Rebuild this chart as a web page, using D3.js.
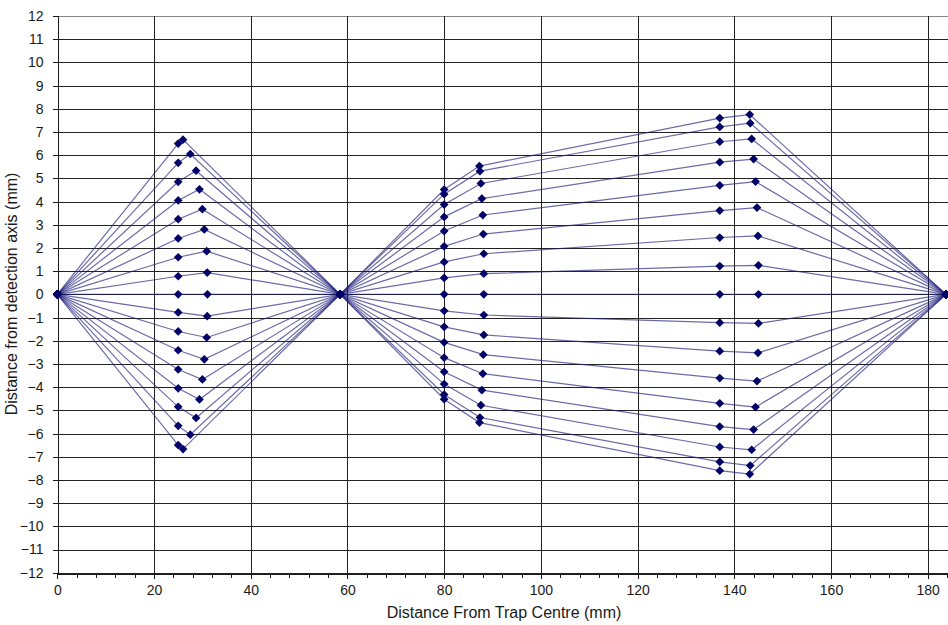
<!DOCTYPE html>
<html>
<head>
<meta charset="utf-8">
<script src="https://cdn.jsdelivr.net/npm/d3@7"></script>
<style>
  html, body { margin: 0; padding: 0; background: #fff; }
  svg { display: block; font-family: "Liberation Sans", Arial, sans-serif; }
</style>
</head>
<body>
<svg id="chart" width="948" height="625"></svg>
<script>
// Ray trace through a two-stage lens system: 17 rays from the trap centre,
// each listed top to bottom. Every ray passes the source, the entry and exit
// faces of three lens elements, and two focal points on the axis.

const xSource = 0;
const xFocus1 = 58.5;
const xFocus2 = 183.8;

// First element (entry face at a fixed plane, exit face curved)
const xLens1Entry = 25;
const yLens1Entry = [6.5, 5.67, 4.85, 4.05, 3.24, 2.41, 1.6, 0.78, 0, -0.78, -1.6, -2.41, -3.24, -4.05, -4.85, -5.67, -6.5];
const xLens1Exit  = [26.0, 27.5, 28.7, 29.4, 30.0, 30.4, 30.9, 31.0, 31.05, 31.0, 30.9, 30.4, 30.0, 29.4, 28.7, 27.5, 26.0];
const yLens1Exit  = [6.67, 6.05, 5.33, 4.53, 3.67, 2.8, 1.86, 0.94, 0, -0.94, -1.86, -2.8, -3.67, -4.53, -5.33, -6.05, -6.67];

// Second element
const xLens2Entry = 80;
const yLens2Entry = [4.52, 4.32, 3.87, 3.34, 2.73, 2.07, 1.4, 0.71, 0, -0.71, -1.4, -2.07, -2.73, -3.34, -3.87, -4.32, -4.52];
const xLens2Exit  = [87.3, 87.4, 87.6, 87.8, 88.0, 88.1, 88.2, 88.2, 88.2, 88.2, 88.2, 88.1, 88.0, 87.8, 87.6, 87.4, 87.3];
const yLens2Exit  = [5.53, 5.31, 4.78, 4.13, 3.42, 2.6, 1.75, 0.89, 0, -0.89, -1.75, -2.6, -3.42, -4.13, -4.78, -5.31, -5.53];

// Third element
const xLens3Entry = 137;
const yLens3Entry = [7.6, 7.22, 6.58, 5.7, 4.7, 3.61, 2.45, 1.22, 0, -1.22, -2.45, -3.61, -4.7, -5.7, -6.58, -7.22, -7.6];
const xLens3Exit  = [143.2, 143.3, 143.6, 144.0, 144.4, 144.7, 144.9, 145.0, 145.0, 145.0, 144.9, 144.7, 144.4, 144.0, 143.6, 143.3, 143.2];
const yLens3Exit  = [7.75, 7.38, 6.7, 5.83, 4.86, 3.74, 2.52, 1.25, 0, -1.25, -2.52, -3.74, -4.86, -5.83, -6.7, -7.38, -7.75];

// Axis ticks
const xTicks = [0, 20, 40, 60, 80, 100, 120, 140, 160, 180];
const xMinorTicks = d3.range(0, 185, 4);
const yTicks = d3.range(-12, 13, 1);

const xDomain = [0, 184.2];
const yDomain = [-12, 12];

const rays = yLens1Entry.map((_, i) => [
  [xSource, 0],
  [xLens1Entry, yLens1Entry[i]],
  [xLens1Exit[i], yLens1Exit[i]],
  [xFocus1, 0],
  [xLens2Entry, yLens2Entry[i]],
  [xLens2Exit[i], yLens2Exit[i]],
  [xLens3Entry, yLens3Entry[i]],
  [xLens3Exit[i], yLens3Exit[i]],
  [xFocus2, 0]
]);

const svg = d3.select("#chart");
const plotLeft = 57.3, plotRight = 948, plotTop = 16, plotBottom = 572.7;

const x = d3.scaleLinear().domain(xDomain).range([plotLeft, plotRight]);
const y = d3.scaleLinear().domain(yDomain).range([plotBottom, plotTop]);

const ink = "#1a1a1a";

// Grid
const grid = svg.append("g").attr("shape-rendering", "crispEdges");
grid.selectAll("line.h").data(yTicks).join("line")
  .attr("class", "h")
  .attr("x1", plotLeft).attr("x2", plotRight)
  .attr("y1", d => Math.round(y(d)) + 0.5).attr("y2", d => Math.round(y(d)) + 0.5)
  .attr("stroke", d => d === 12 ? "#888" : "#222")
  .attr("stroke-width", 1);
grid.selectAll("line.v").data(xTicks.filter(d => d > 0)).join("line")
  .attr("class", "v")
  .attr("x1", d => Math.round(x(d)) + 0.5).attr("x2", d => Math.round(x(d)) + 0.5)
  .attr("y1", plotTop).attr("y2", plotBottom)
  .attr("stroke", "#222")
  .attr("stroke-width", 1);

// Axes
svg.append("g")
  .attr("transform", `translate(0,${Math.round(plotBottom) + 0.5})`)
  .call(d3.axisBottom(x).tickValues(xTicks).tickSize(5).tickPadding(7).tickFormat(d3.format("d")));
svg.append("g")
  .attr("transform", `translate(0,${Math.round(plotBottom) + 0.5})`)
  .call(d3.axisBottom(x).tickValues(xMinorTicks).tickSize(4).tickFormat(""))
  .call(g => g.select(".domain").remove());

svg.append("g")
  .attr("transform", `translate(${Math.round(plotLeft) + 0.5},0)`)
  .call(d3.axisLeft(y).tickValues(yTicks).tickSize(5).tickPadding(9).tickFormat(d3.format("d")));

svg.selectAll(".domain").attr("stroke", ink).attr("shape-rendering", "crispEdges");
svg.selectAll(".tick line").attr("stroke", ink).attr("shape-rendering", "crispEdges");
svg.selectAll(".tick text")
  .attr("fill", ink)
  .style("font-size", "14px")
  .style("font-family", "'Liberation Sans', Arial, sans-serif");

// Ray paths
const line = d3.line().x(d => x(d[0])).y(d => y(d[1]));
svg.append("g").selectAll("path").data(rays).join("path")
  .attr("d", line)
  .attr("fill", "none")
  .attr("stroke", "#1c1c7a")
  .attr("stroke-opacity", 0.65)
  .attr("stroke-width", 1.2);

// Diamond markers
const diamond = {
  draw(context, size) {
    const r = Math.sqrt(size / 2);
    context.moveTo(0, -r);
    context.lineTo(r, 0);
    context.lineTo(0, r);
    context.lineTo(-r, 0);
    context.closePath();
  }
};
const pts = rays.flat();
svg.append("g").selectAll("path").data(pts).join("path")
  .attr("transform", d => `translate(${x(d[0])},${y(d[1])})`)
  .attr("d", d3.symbol().type(diamond).size(38))
  .attr("fill", "#000066");

// Axis titles
svg.append("text")
  .attr("x", 504).attr("y", 618)
  .attr("text-anchor", "middle")
  .attr("fill", ink)
  .style("font-size", "16px")
  .text("Distance From Trap Centre (mm)");

svg.append("text")
  .attr("transform", "translate(17,294) rotate(-90)")
  .attr("text-anchor", "middle")
  .attr("fill", ink)
  .style("font-size", "16px")
  .text("Distance from detection axis (mm)");
</script>
</body>
</html>
